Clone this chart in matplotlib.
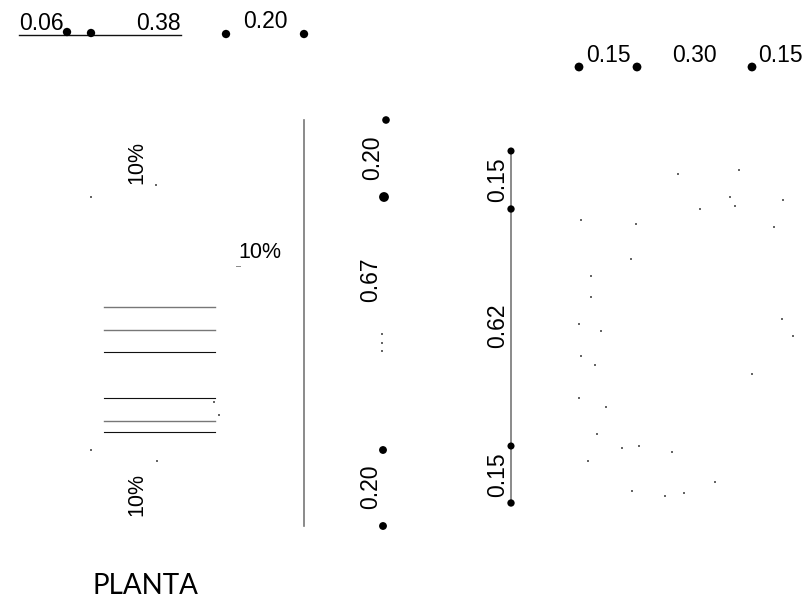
import matplotlib
matplotlib.use("Agg")
import matplotlib.pyplot as plt
from matplotlib import font_manager as fm

W, H = 805, 607
names = {f.name for f in fm.fontManager.ttflist}
NARROW = "Liberation Sans Narrow" if "Liberation Sans Narrow" in names else "Liberation Sans"

dots_x = [67, 91, 226, 304, 579, 637, 752, 386, 384, 383, 383, 511, 511, 511, 511]
dots_y = [32, 33, 34, 34, 67, 67, 67, 120, 197, 450, 526, 151, 209, 446, 503]
dots_s = [36, 36, 36, 36, 40, 40, 40, 30, 50, 32, 32, 26, 28, 26, 28]

specks_x = [678, 739, 730, 735, 700, 783, 774, 581, 636, 631, 591, 591, 579, 601, 581, 595,
            579, 606, 597, 622, 639, 672, 588, 715, 632, 684, 665, 782, 793, 752,
            91, 156, 91, 157, 214, 219, 382, 382, 382]
specks_y = [174, 170, 197, 206, 209, 200, 227, 220, 224, 259, 276, 297, 324, 331, 356, 365,
            398, 407, 434, 448, 446, 452, 461, 482, 491, 493, 496, 319, 336, 374,
            197, 185, 450, 461, 402, 415, 334, 343, 351]

dim_labels = ["0.06", "0.38", "0.20", "0.15", "0.30", "0.15"]
dim_x = [41, 158, 265, 608, 694, 780]
dim_y = [23, 23, 22, 55, 55, 55]

vert_labels = ["0.20", "0.67", "0.20", "0.15", "0.62", "0.15"]
vert_x = [373, 371, 371, 498, 498, 498]
vert_y = [158, 280, 487, 180, 326, 475]

slope_labels = ["10%", "10%"]
slope_x = [137, 137]
slope_y = [163, 495]

steps_y = [307, 330, 352, 398, 421, 432]
steps_x0, steps_x1 = 104, 215
steps_gray = [True, True, False, False, True, False]

fig = plt.figure(figsize=(W / 100, H / 100), dpi=100, facecolor="white")
ax = fig.add_axes([0, 0, 1, 1])
ax.set_xlim(0, W)
ax.set_ylim(H, 0)
ax.axis("off")

ax.plot([19, 181], [35, 35], color="#111111", lw=1.0, zorder=1)
ax.plot([304, 304], [120, 526], color="#777777", lw=1.2, zorder=1)
ax.plot([511, 511], [151, 503], color="#777777", lw=1.2, zorder=1)
for y, g in zip(steps_y, steps_gray):
    ax.plot([steps_x0, steps_x1], [y, y], color="#777777" if g else "#111111",
            lw=1.0 if g else 0.8, zorder=1)
ax.plot([236, 240], [266, 266], color="#888888", lw=0.7)

ax.scatter(dots_x, dots_y, s=dots_s, color="black", linewidths=0, zorder=3)
ax.scatter(specks_x, specks_y, s=1.5, color="#666666", linewidths=0, marker="s", zorder=2)

font = dict(family="Liberation Sans", color="black", ha="center", va="center")
for t, x, y in zip(dim_labels, dim_x, dim_y):
    ax.text(x, y, t, fontsize=16.5, **font)
for t, x, y in zip(vert_labels, vert_x, vert_y):
    ax.text(x, y, t, fontsize=16.5, rotation=90, **font)

narrow = dict(font, family=NARROW)
for t, x, y in zip(slope_labels, slope_x, slope_y):
    ax.text(x, y, t, fontsize=15.5, rotation=90, **narrow)
ax.text(260, 252, "10%", fontsize=15.5, **narrow)

ax.text(145, 586, "PLANTA", fontsize=20, family="Lato", color="black",
        ha="center", va="center", fontweight="normal")

fig.savefig("out.png", dpi=100)
